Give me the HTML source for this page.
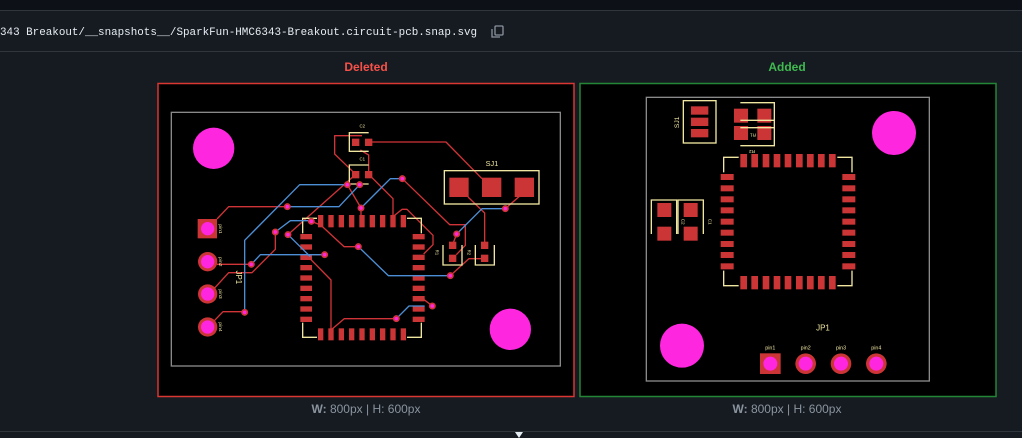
<!DOCTYPE html>
<html><head><meta charset="utf-8"><style>
html,body{margin:0;padding:0;background:#161b22;width:1022px;height:438px;overflow:hidden}
svg{display:block}
</style></head><body>
<svg width="1022" height="438" viewBox="0 0 1022 438" xmlns="http://www.w3.org/2000/svg">
<rect width="1022" height="438" fill="#161b22"/>
<rect width="1022" height="10" fill="#0d1117"/>
<line x1="0" y1="10.5" x2="1022" y2="10.5" stroke="#30363d"/>
<line x1="0" y1="51.5" x2="1022" y2="51.5" stroke="#30363d"/>
<text x="0" y="35" font-family="Liberation Mono, monospace" font-size="10.9" fill="#e6edf3">343 Breakout/__snapshots__/SparkFun-HMC6343-Breakout.circuit-pcb.snap.svg</text>
<g fill="none" stroke="#8b949e" stroke-width="1.3">
<rect x="495" y="26" width="8" height="9" rx="1"/>
<path d="M492 29 v8 h8"/>
</g>
<text x="366" y="71" text-anchor="middle" font-family="Liberation Sans, sans-serif" font-size="12" font-weight="bold" fill="#f85149">Deleted</text>
<text x="787" y="71" text-anchor="middle" font-family="Liberation Sans, sans-serif" font-size="12" font-weight="bold" fill="#3fb950">Added</text>
<text x="366" y="413" text-anchor="middle" font-family="Liberation Sans, sans-serif" font-size="12" fill="#8b949e"><tspan font-weight="bold">W:</tspan> 800px | H: 600px</text>
<text x="787" y="413" text-anchor="middle" font-family="Liberation Sans, sans-serif" font-size="12" fill="#8b949e"><tspan font-weight="bold">W:</tspan> 800px | H: 600px</text>
<line x1="0" y1="431.5" x2="1022" y2="431.5" stroke="#30363d"/>
<path d="M515 432 h8 l-4 6 z" fill="#e6edf3"/>

<!-- LEFT PANEL -->
<rect x="158" y="83.5" width="416" height="313" fill="#000" stroke="#da3633" stroke-width="1.5"/>
<g transform="translate(157,80) scale(0.33333)">
<rect x="43" y="97" width="1167" height="761" fill="none" stroke="#8a8a8a" stroke-width="4"/>
<circle cx="170" cy="205" r="62" fill="#ff26e0"/>
<circle cx="1060" cy="748" r="62" fill="#ff26e0"/>
<!-- red traces -->
<g fill="none" stroke="#d03438" stroke-width="4" stroke-linejoin="round">
<path d="M635 186 H867 L975 296"/>
<path d="M615 167 H533 V222 L596 283"/>
<path d="M610 210 L635 225 V283"/>
<path d="M596 283 L393 464"/>
<path d="M571 314 L612 384 V410"/>
<path d="M635 283 L708 356 V410"/>
<path d="M180 417 L215 380 H391"/>
<path d="M736 296 L878 434 H925 V496 L898 524"/>
<path d="M1045 386 L1102 336"/>
<path d="M933 351 L983 399 V497"/>
<path d="M983 536 H936 L880 587"/>
<path d="M604 500 H561 L491 435 L463 424"/>
<path d="M355 456 V508 L285 578 H215 L172 625"/>
<path d="M180 553 H283"/>
<path d="M503 524 H440"/>
<path d="M458 535 L522 600 V750 L562 716 H718"/>
<path d="M826 678 L800 658"/>
<path d="M172 722 L198 695 H263"/>
<path d="M708 410 L735 388 H750 L828 466 V494 L800 522"/>
<path d="M899 462 L886 496"/>
</g>
<!-- pads -->
<g fill="#cc3535">
<rect x="877" y="293" width="58" height="58"/><rect x="975" y="293" width="58" height="58"/><rect x="1073" y="293" width="58" height="58"/>
<rect x="585" y="176" width="22" height="22"/><rect x="624" y="176" width="22" height="22"/>
<rect x="585" y="273" width="22" height="22"/><rect x="624" y="273" width="22" height="22"/>
<rect x="876" y="485" width="22" height="22"/><rect x="876" y="524" width="22" height="22"/>
<rect x="972" y="485" width="22" height="22"/><rect x="972" y="524" width="22" height="22"/>
<rect x="122" y="417" width="58" height="58"/>
<circle cx="152" cy="545" r="29"/><circle cx="152" cy="642" r="29"/><circle cx="152" cy="741" r="29"/>
</g>
<g fill="#cc3535" id="icL">
<rect x="483" y="405" width="16" height="37"/><rect x="514" y="405" width="16" height="37"/><rect x="545" y="405" width="16" height="37"/><rect x="576" y="405" width="16" height="37"/><rect x="607" y="405" width="16" height="37"/><rect x="638" y="405" width="16" height="37"/><rect x="669" y="405" width="16" height="37"/><rect x="700" y="405" width="16" height="37"/><rect x="731" y="405" width="16" height="37"/>
<rect x="483" y="745" width="16" height="36"/><rect x="514" y="745" width="16" height="36"/><rect x="545" y="745" width="16" height="36"/><rect x="576" y="745" width="16" height="36"/><rect x="607" y="745" width="16" height="36"/><rect x="638" y="745" width="16" height="36"/><rect x="669" y="745" width="16" height="36"/><rect x="700" y="745" width="16" height="36"/><rect x="731" y="745" width="16" height="36"/>
<rect x="430" y="462" width="35" height="16"/><rect x="430" y="493" width="35" height="16"/><rect x="430" y="524" width="35" height="16"/><rect x="430" y="555" width="35" height="16"/><rect x="430" y="586" width="35" height="16"/><rect x="430" y="617" width="35" height="16"/><rect x="430" y="648" width="35" height="16"/><rect x="430" y="679" width="35" height="16"/><rect x="430" y="710" width="35" height="16"/>
<rect x="767" y="462" width="36" height="16"/><rect x="767" y="493" width="36" height="16"/><rect x="767" y="524" width="36" height="16"/><rect x="767" y="555" width="36" height="16"/><rect x="767" y="586" width="36" height="16"/><rect x="767" y="617" width="36" height="16"/><rect x="767" y="648" width="36" height="16"/><rect x="767" y="679" width="36" height="16"/><rect x="767" y="710" width="36" height="16"/>
</g>
<g fill="#ff26e0">
<circle cx="152" cy="446" r="20"/><circle cx="152" cy="545" r="20"/><circle cx="152" cy="642" r="20"/><circle cx="152" cy="741" r="20"/>
</g>
<!-- silkscreen -->
<g fill="none" stroke="#f0e6a0" stroke-width="4">
<rect x="862" y="272" width="284" height="100"/>
<path d="M635 158 H577 V214 H635"/>
<path d="M635 255 H577 V312 H635"/>
<path d="M858 495 V555 H915 V495"/>
<path d="M955 495 V555 H1012 V495"/>
<path d="M437 460 V415 H480 M750 415 H793 V460 M437 728 V772 H480 M750 772 H793 V728"/>
</g>
<!-- blue traces -->
<g fill="none" stroke="#4d8fd6" stroke-width="4" stroke-linejoin="round">
<path d="M391 380 H546 L608 314"/>
<path d="M263 697 V481 L428 314 H571"/>
<path d="M612 384 L700 296 H736"/>
<path d="M899 462 L975 386 H1045"/>
<path d="M880 587 H694 L604 500"/>
<path d="M355 456 L400 422 H463"/>
<path d="M283 553 L310 524 H503"/>
<path d="M393 464 L460 530"/>
<path d="M718 716 L756 678 H803"/>
</g>
<!-- vias -->
<g fill="#ff26e0" stroke="#d03438" stroke-width="5">
<circle cx="571" cy="314" r="8"/><circle cx="608" cy="314" r="8"/><circle cx="391" cy="380" r="8"/><circle cx="612" cy="384" r="8"/><circle cx="736" cy="296" r="8"/><circle cx="355" cy="456" r="8"/><circle cx="393" cy="464" r="8"/><circle cx="463" cy="424" r="8"/><circle cx="283" cy="553" r="8"/><circle cx="503" cy="524" r="8"/><circle cx="604" cy="500" r="8"/><circle cx="899" cy="462" r="8"/><circle cx="1045" cy="386" r="8"/><circle cx="880" cy="587" r="8"/><circle cx="826" cy="678" r="8"/><circle cx="718" cy="716" r="8"/><circle cx="263" cy="697" r="8"/>
</g>
<g font-family="Liberation Sans, sans-serif" fill="#f0e6a0">
<text x="1005" y="258" text-anchor="middle" font-size="22">SJ1</text>
<text x="616" y="143" text-anchor="middle" font-size="13">C2</text>
<text x="616" y="242" text-anchor="middle" font-size="13">C1</text>
<text transform="translate(836,517) rotate(90)" text-anchor="middle" font-size="13">R1</text>
<text transform="translate(932,517) rotate(90)" text-anchor="middle" font-size="13">R2</text>
<text transform="translate(186,447) rotate(90)" text-anchor="middle" font-size="15">pin1</text>
<text transform="translate(186,545) rotate(90)" text-anchor="middle" font-size="15">pin2</text>
<text transform="translate(186,642) rotate(90)" text-anchor="middle" font-size="15">pin3</text>
<text transform="translate(186,741) rotate(90)" text-anchor="middle" font-size="15">pin4</text>
<text transform="translate(237,592) rotate(90)" text-anchor="middle" font-size="24">JP1</text>
</g>
</g>

<!-- RIGHT PANEL -->
<rect x="580" y="83.5" width="416" height="313" fill="#000" stroke="#238636" stroke-width="1.5"/>
<g transform="translate(578,80) scale(0.33333)">
<rect x="205" y="52" width="849" height="851" fill="none" stroke="#8a8a8a" stroke-width="4"/>
<circle cx="948" cy="159" r="66" fill="#ff26e0"/>
<circle cx="312" cy="797" r="66" fill="#ff26e0"/>
<g fill="#cc3535">
<rect x="339" y="79" width="52" height="25"/><rect x="339" y="113" width="52" height="25"/><rect x="339" y="147" width="52" height="25"/>
<rect x="468" y="86" width="42" height="42"/><rect x="538" y="86" width="42" height="42"/><rect x="468" y="138" width="42" height="42"/><rect x="538" y="138" width="42" height="42"/>
<rect x="238" y="369" width="42" height="42"/><rect x="238" y="440" width="42" height="42"/><rect x="317" y="369" width="42" height="42"/><rect x="317" y="440" width="42" height="42"/>
<rect x="487" y="222" width="20" height="40"/><rect x="520" y="222" width="20" height="40"/><rect x="554" y="222" width="20" height="40"/><rect x="587" y="222" width="20" height="40"/><rect x="620" y="222" width="20" height="40"/><rect x="654" y="222" width="20" height="40"/><rect x="687" y="222" width="20" height="40"/><rect x="720" y="222" width="20" height="40"/><rect x="753" y="222" width="20" height="40"/>
<rect x="487" y="588" width="20" height="40"/><rect x="520" y="588" width="20" height="40"/><rect x="554" y="588" width="20" height="40"/><rect x="587" y="588" width="20" height="40"/><rect x="620" y="588" width="20" height="40"/><rect x="654" y="588" width="20" height="40"/><rect x="687" y="588" width="20" height="40"/><rect x="720" y="588" width="20" height="40"/><rect x="753" y="588" width="20" height="40"/>
<rect x="428" y="282" width="39" height="18"/><rect x="428" y="316" width="39" height="18"/><rect x="428" y="349" width="39" height="18"/><rect x="428" y="382" width="39" height="18"/><rect x="428" y="416" width="39" height="18"/><rect x="428" y="449" width="39" height="18"/><rect x="428" y="483" width="39" height="18"/><rect x="428" y="516" width="39" height="18"/><rect x="428" y="550" width="39" height="18"/>
<rect x="793" y="282" width="39" height="18"/><rect x="793" y="316" width="39" height="18"/><rect x="793" y="349" width="39" height="18"/><rect x="793" y="382" width="39" height="18"/><rect x="793" y="416" width="39" height="18"/><rect x="793" y="449" width="39" height="18"/><rect x="793" y="483" width="39" height="18"/><rect x="793" y="516" width="39" height="18"/><rect x="793" y="550" width="39" height="18"/>
<rect x="546" y="820" width="62" height="62"/>
<circle cx="683" cy="851" r="31"/><circle cx="789" cy="851" r="31"/><circle cx="895" cy="851" r="31"/>
</g>
<g fill="#ff26e0">
<circle cx="577" cy="851" r="21"/><circle cx="683" cy="851" r="21"/><circle cx="789" cy="851" r="21"/><circle cx="895" cy="851" r="21"/>
</g>
<g fill="none" stroke="#f0e6a0" stroke-width="4">
<rect x="316" y="62" width="98" height="127"/>
<path d="M487 68 H589 V197 H487 M487 121 H589 M487 143 H589"/>
<path d="M220 462 V360 H296 V462"/>
<path d="M300 462 V360 H376 V462"/>
<path d="M437 277 V232 H482 M778 232 H822 V277 M437 572 V617 H482 M778 617 H822 V572"/>
</g>
<g font-family="Liberation Sans, sans-serif" fill="#f0e6a0">
<text transform="translate(303,127) rotate(-90)" text-anchor="middle" font-size="20">SJ1</text>
<text transform="translate(525,160) rotate(180)" text-anchor="middle" font-size="14">R1</text>
<text transform="translate(522,210) rotate(180)" text-anchor="middle" font-size="14">R2</text>
<text transform="translate(311,425) rotate(90)" text-anchor="middle" font-size="14">C2</text>
<text transform="translate(391,425) rotate(90)" text-anchor="middle" font-size="14">C1</text>
<text x="735" y="752" text-anchor="middle" font-size="24">JP1</text>
<text x="577" y="809" text-anchor="middle" font-size="16">pin1</text>
<text x="683" y="809" text-anchor="middle" font-size="16">pin2</text>
<text x="789" y="809" text-anchor="middle" font-size="16">pin3</text>
<text x="895" y="809" text-anchor="middle" font-size="16">pin4</text>
</g>
</g>
</svg>
</body></html>
